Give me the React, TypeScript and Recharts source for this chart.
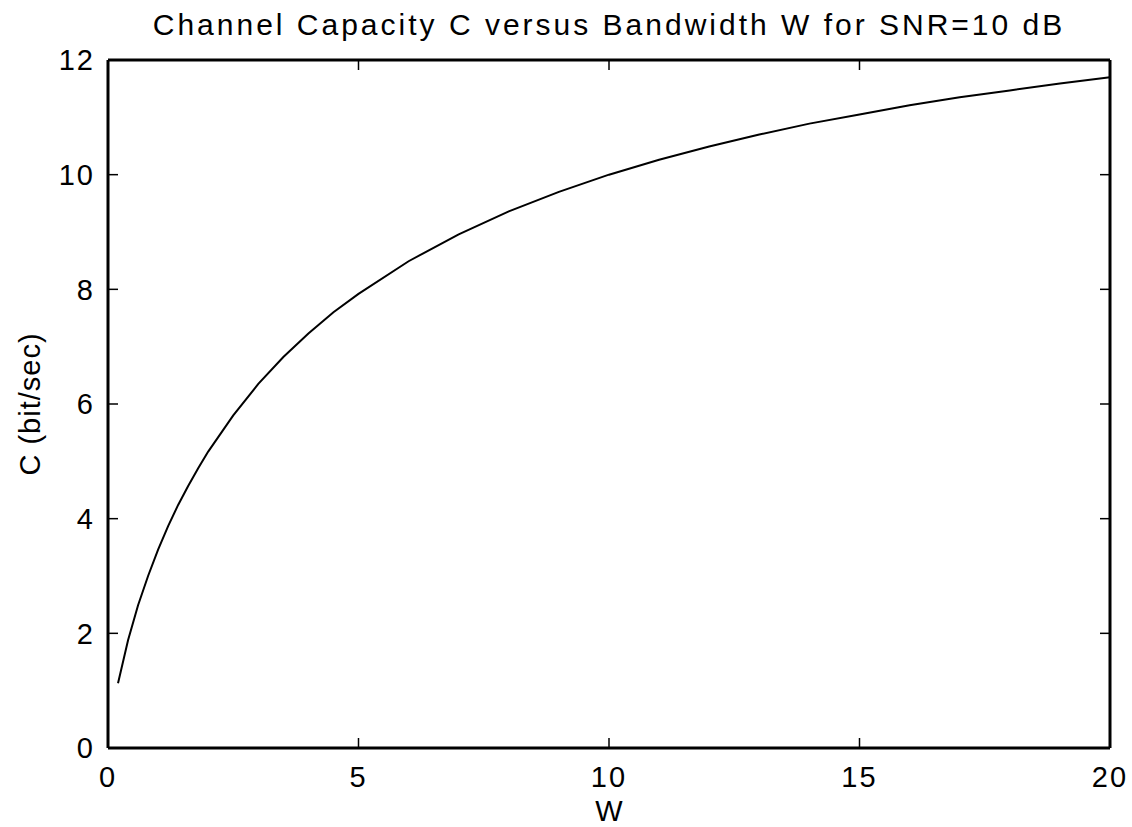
import { Label, Line, LineChart, XAxis, YAxis } from "recharts";

// values
const bandwidth = [
  0.2, 0.4, 0.6, 0.8, 1, 1.2, 1.4, 1.6, 1.8, 2, 2.5, 3, 3.5, 4, 4.5, 5, 6, 7, 8,
  9, 10, 11, 12, 13, 14, 15, 16, 17, 18, 19, 20,
];
const capacity = [
  1.13, 1.88, 2.49, 3.0, 3.46, 3.87, 4.24, 4.57, 4.88, 5.17, 5.8, 6.35, 6.82,
  7.23, 7.6, 7.92, 8.49, 8.96, 9.36, 9.7, 10.0, 10.26, 10.49, 10.7, 10.89,
  11.05, 11.21, 11.35, 11.47, 11.59, 11.7,
];
const xTicks = [0, 5, 10, 15, 20];
const yTicks = [0, 2, 4, 6, 8, 10, 12];

const data = bandwidth.map((w, i) => ({ w, c: capacity[i] }));

const WIDTH = 1132;
const HEIGHT = 827;
const margin = { top: 60, right: 22, bottom: 78, left: 107 };
// plot box edges (axes are 1px thick in the layout)
const plotTop = margin.top;
const plotBottom = HEIGHT - margin.bottom - 1;
const plotLeft = margin.left + 1;
const plotRight = WIDTH - margin.right;
const TICK = 10;

const font = "'Liberation Sans', Arial, sans-serif";
const axisLine = { stroke: "#000", strokeWidth: 3 };
const textStyle = { fill: "#000", fontSize: 29, fontFamily: font, letterSpacing: 2 };

// matlab style: inward ticks on both opposite sides of the box
function XTick({ x, y, payload }: any) {
  return (
    <g>
      <line x1={x} x2={x} y1={plotBottom} y2={plotBottom - TICK} stroke="#000" strokeWidth={1.5} />
      <line x1={x} x2={x} y1={plotTop} y2={plotTop + TICK} stroke="#000" strokeWidth={1.5} />
      <text x={x} y={y} dy="0.71em" textAnchor="middle" style={textStyle}>
        {payload.value}
      </text>
    </g>
  );
}

function YTick({ x, y, payload }: any) {
  return (
    <g>
      <line x1={plotLeft} x2={plotLeft + TICK} y1={y} y2={y} stroke="#000" strokeWidth={1.5} />
      <line x1={plotRight} x2={plotRight - TICK} y1={y} y2={y} stroke="#000" strokeWidth={1.5} />
      <text x={x} y={y} dy="0.355em" textAnchor="end" style={textStyle}>
        {payload.value}
      </text>
    </g>
  );
}

export default function App() {
  return (
    <div
      style={{
        position: "absolute",
        left: 0,
        top: 0,
        width: WIDTH,
        height: HEIGHT,
        overflow: "hidden",
        background: "#fff",
      }}
    >
      <LineChart width={WIDTH} height={HEIGHT} data={data} margin={margin}>
        <XAxis
          dataKey="w"
          type="number"
          domain={[0, 20]}
          ticks={xTicks}
          height={1}
          axisLine={axisLine}
          tickLine={false}
          tickSize={0}
          tickMargin={18}
          tick={<XTick />}
          interval={0}
        >
          <Label
            value="W"
            position="bottom"
            offset={51}
            style={{ fill: "#000", fontSize: 29, fontFamily: font }}
          />
        </XAxis>
        <XAxis
          xAxisId="top"
          orientation="top"
          type="number"
          domain={[0, 20]}
          height={1}
          mirror
          axisLine={axisLine}
          tickLine={false}
          tick={false}
        >
          <Label
            value="Channel Capacity C versus Bandwidth W for SNR=10 dB"
            position="top"
            offset={25}
            style={{ fill: "#000", fontSize: 30, fontFamily: font, letterSpacing: 3 }}
          />
        </XAxis>
        <YAxis
          type="number"
          domain={[0, 12]}
          ticks={yTicks}
          width={1}
          axisLine={axisLine}
          tickLine={false}
          tickSize={0}
          tickMargin={13}
          tick={<YTick />}
          interval={0}
        >
          <Label
            value="C (bit/sec)"
            position="left"
            angle={-90}
            offset={77}
            style={{ fill: "#000", fontSize: 29, fontFamily: font, letterSpacing: 1, textAnchor: "middle" }}
          />
        </YAxis>
        <YAxis
          yAxisId="right"
          orientation="right"
          type="number"
          domain={[0, 12]}
          width={1}
          mirror
          axisLine={axisLine}
          tickLine={false}
          tick={false}
        />
        <Line
          dataKey="c"
          type="linear"
          stroke="#000"
          strokeWidth={2}
          dot={false}
          isAnimationActive={false}
        />
      </LineChart>
    </div>
  );
}
